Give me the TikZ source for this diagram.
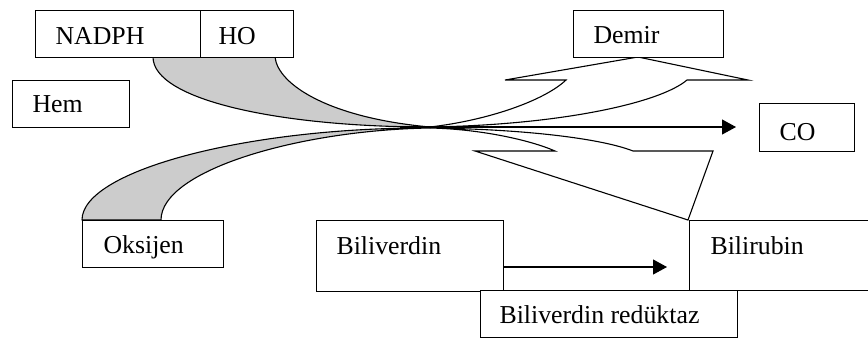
\documentclass[tikz,border=0pt]{standalone}
\usepackage{fontspec}
\setmainfont{Liberation Serif}
\usetikzlibrary{arrows.meta}
\begin{document}
\begin{tikzpicture}[x=1pt,y=-1pt,
  line width=1.1pt,
  box/.style={draw=black,fill=white,line width=1.1pt,rectangle,inner sep=0pt,anchor=north west},
  lbl/.style={anchor=base west,inner sep=0pt,font=\fontsize{25.8}{30}\selectfont},
  band/.style={draw=black,fill=black!20,line width=1.1pt,line join=round},
  blockarrow/.style={draw=black,fill=white,line width=1.1pt,line join=miter},
  head/.style={-{Triangle[length=14pt,width=15pt]}}
]
\useasboundingbox (0,0) rectangle (868,338);

% key points
\coordinate (c) at (430,127);
\coordinate (c2) at (430,128);
\coordinate (start) at (400,127);

% grey bands
\path[band] (153,57) .. controls (153,100) and (280,127) .. (c)
  .. controls (330,118) and (278,85) .. (275,57) -- cycle;
\path[band] (82,220) .. controls (82,170) and (250,127) .. (c2)
  .. controls (300,130) and (161,170) .. (161,220) -- cycle;

% block arrow to Demir
\path[blockarrow] (c) .. controls (490,120) and (545,100) .. (566,80)
  -- (505,80) -- (638,57) -- (748,80) -- (687,80)
  .. controls (660,103) and (560,125) .. (c);

% block arrow to Bilirubin
\path[blockarrow] (c2) .. controls (480,129) and (530,140) .. (555,151)
  -- (475,151) -- (688,220) -- (713,151) -- (633,151)
  .. controls (600,138) and (520,129) .. (c2);

% boxes
\node[box,minimum width=165pt,minimum height=47pt] (nadph) at (35,10) {};
\node[box,minimum width=93pt,minimum height=47pt] (ho) at (200,10) {};
\node[box,minimum width=117pt,minimum height=47pt] (hem) at (12,80) {};
\node[box,minimum width=150pt,minimum height=47pt] (demir) at (573,10) {};
\node[box,minimum width=95pt,minimum height=48pt] (co) at (759,103) {};
\node[box,minimum width=141pt,minimum height=47pt] (oksijen) at (82,220) {};
\node[box,minimum width=187pt,minimum height=71pt] (biliv) at (316,220) {};
\node[box,minimum width=182pt,minimum height=70pt] (bilir) at (689,220) {};
\node[box,minimum width=257pt,minimum height=47pt] (redu) at (480,290) {};

% labels
\node[lbl] (tnadph) at (55,44) {NADPH};
\node[lbl] (tho) at (218,44) {HO};
\node[lbl] (them) at (32,112) {Hem};
\node[lbl] (tdemir) at (593,43) {Demir};
\node[lbl] (tco) at (779,140) {CO};
\node[lbl] (toks) at (103,253) {Oksijen};
\node[lbl] (tbiliv) at (336,254) {Biliverdin};
\node[lbl] (tbilir) at (710,254) {Bilirubin};
\node[lbl] (tredu) at (499,323) {Biliverdin redüktaz};

% arrows
\coordinate (coin) at (736,127);
\draw[head] (start) -- (coin);
\coordinate (bvout) at (biliv.east |- 0,267);
\coordinate (brin) at (667,267);
\draw[head] (bvout) -- (brin);
\end{tikzpicture}
\end{document}
